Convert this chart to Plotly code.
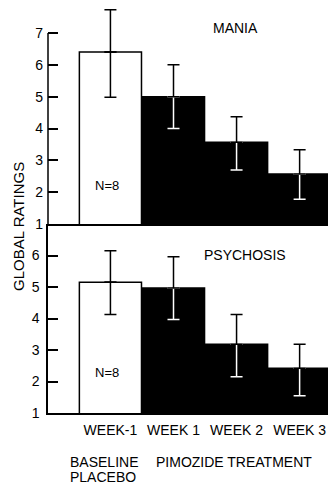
import plotly.graph_objects as go
from plotly.subplots import make_subplots

weeks = ["WEEK-1", "WEEK 1", "WEEK 2", "WEEK 3"]
mania = [6.4, 5.0, 3.57, 2.57]
mania_up = [1.33, 1.0, 0.8, 0.76]
mania_down = [1.42, 1.0, 0.87, 0.79]
psychosis = [5.15, 4.97, 3.18, 2.42]
psychosis_up = [1.0, 0.99, 0.95, 0.76]
psychosis_down = [1.02, 1.0, 1.03, 0.87]
bar_colors = ["white", "black", "black", "black"]

FONT = "Liberation Sans, Arial, Helvetica, sans-serif"

L, R, T, B = 48, 0, 9, 72
W, H = 328, 485
PW, PH = W - L - R, H - T - B
TOP_PX = 224 - T          # top panel height in px
BOT_PX = (H - B) - 224    # bottom panel height in px

fig = make_subplots(rows=2, cols=1, shared_xaxes=True, vertical_spacing=0,
                    row_heights=[TOP_PX / PH, BOT_PX / PH])

def add_panel(row, vals, up, down):
    fig.add_trace(go.Bar(x=weeks, y=vals, marker=dict(color=bar_colors,
                         line=dict(color="black", width=1.5)),
                         showlegend=False, hoverinfo="skip"), row=row, col=1)
    # lower part inside bars: white on black bars, black on white bar
    for idx, col in [([1, 2, 3], "white"), ([0], "black")]:
        fig.add_trace(go.Scatter(
            x=[weeks[i] for i in idx], y=[vals[i] for i in idx], mode="markers",
            marker=dict(size=1, color="rgba(0,0,0,0)"),
            error_y=dict(type="data", symmetric=False,
                         array=[0] * len(idx), arrayminus=[down[i] for i in idx],
                         color=col, thickness=1.5, width=6),
            showlegend=False, hoverinfo="skip"), row=row, col=1)
    fig.add_trace(go.Scatter(
        x=weeks, y=vals, mode="markers",
        marker=dict(size=1, color="rgba(0,0,0,0)"),
        error_y=dict(type="data", symmetric=False, array=up,
                     arrayminus=[0] * 4, color="black", thickness=1.5, width=6),
        showlegend=False, hoverinfo="skip"), row=row, col=1)

add_panel(1, mania, mania_up, mania_down)
add_panel(2, psychosis, psychosis_up, psychosis_down)

def px(xp):
    return (xp - L) / PW

def py(yp):
    return (H - B - yp) / PH

unit_top = TOP_PX / 6.0 * (191 / TOP_PX)  # px per rating unit (~31.8)
top_max = 7 + (33 - T) / unit_top

fig.update_layout(
    width=W, height=H, margin=dict(l=L, r=R, t=T, b=B, autoexpand=False),
    paper_bgcolor="white", plot_bgcolor="white", bargap=0.015,
    font=dict(family=FONT, size=14, color="black"),
)
xcommon = dict(range=[-0.99, 3.45], showline=True, linecolor="black", linewidth=1.5,
               showgrid=False, zeroline=False, ticks="", type="category",
               automargin=False)
fig.update_xaxes(**xcommon, showticklabels=False, row=1, col=1)
fig.update_xaxes(**xcommon, showticklabels=True, ticklabelstandoff=3, row=2, col=1)
ycommon = dict(showgrid=False, zeroline=False, ticks="inside", ticklen=10,
               tickwidth=1.5, tickcolor="black", ticklabelstandoff=4,
               automargin=False)
fig.update_yaxes(**ycommon, range=[1, top_max], showline=False,
                 tickvals=[1, 2, 3, 4, 5, 6, 7], row=1, col=1)
fig.update_yaxes(**ycommon, range=[1, 7], showline=True, linecolor="black",
                 linewidth=1.5, tickvals=[1, 2, 3, 4, 5, 6], row=2, col=1)
# left axis line of top panel, ending at the top tick (7)
fig.add_shape(type="line", xref="paper", yref="y", x0=0, x1=0, y0=1, y1=7,
              line=dict(color="black", width=1.5))

ann = dict(xref="paper", yref="paper", showarrow=False, xanchor="center",
           yanchor="middle")
blk = "black"
fig.add_annotation(text="MANIA", x=px(236), y=py(28), font=dict(size=14, color=blk), **ann)
fig.add_annotation(text="PSYCHOSIS", x=px(245), y=py(255), font=dict(size=14, color=blk), **ann)
fig.add_annotation(text="N=8", x=px(107), y=py(186), font=dict(size=13, color=blk), **ann)
fig.add_annotation(text="N=8", x=px(107), y=py(372), font=dict(size=13, color=blk), **ann)
fig.add_annotation(text="GLOBAL RATINGS", textangle=-90, x=px(18), y=py(227),
                   font=dict(size=15, color=blk), **ann)
fig.add_annotation(text="BASELINE", x=px(104), y=py(462), font=dict(size=14, color=blk), **ann)
fig.add_annotation(text="PLACEBO", x=px(103), y=py(477), font=dict(size=14, color=blk), **ann)
fig.add_annotation(text="PIMOZIDE TREATMENT", x=px(234), y=py(462),
                   font=dict(size=14, color=blk), **ann)

fig.write_html("out.html", config={"displayModeBar": False},
               post_script="document.body.style.margin='0';")
